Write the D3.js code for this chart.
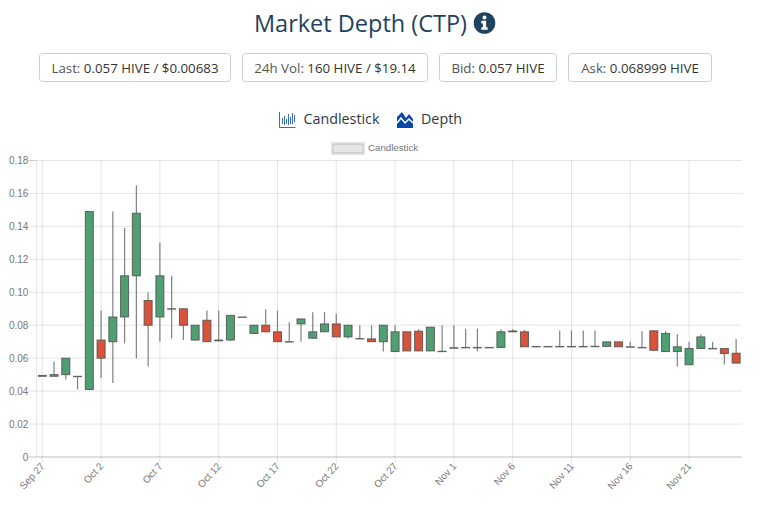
<!DOCTYPE html>
<html><head><meta charset="utf-8">
<script src="https://cdnjs.cloudflare.com/ajax/libs/d3/7.8.5/d3.min.js"></script>
<style>
html,body{margin:0;padding:0;background:#fff;overflow:hidden}
svg{display:block}
text{font-family:"Open Sans","Noto Sans",sans-serif}
.tick text{font-family:"Liberation Sans",Arial,sans-serif;font-size:10px;fill:#777}
</style></head><body>
<div id="chart"></div>
<script>
const title = "Market Depth (CTP)";
const stats = [
  {label:"Last:", value:"0.057 HIVE / $0.00683"},
  {label:"24h Vol:", value:"160 HIVE / $19.14"},
  {label:"Bid:", value:"0.057 HIVE"},
  {label:"Ask:", value:"0.068999 HIVE"}
];
const statBoxes = [[39,192],[242,186],[439,118],[568,144]];
const dates = ["Sep 27","Sep 28","Sep 29","Sep 30",
 "Oct 1","Oct 2","Oct 3","Oct 4","Oct 5","Oct 6","Oct 7","Oct 8","Oct 9","Oct 10","Oct 11","Oct 12","Oct 13","Oct 14","Oct 15","Oct 16",
 "Oct 17","Oct 18","Oct 19","Oct 20","Oct 21","Oct 22","Oct 23","Oct 24","Oct 25","Oct 26","Oct 27","Oct 28","Oct 29","Oct 30","Oct 31",
 "Nov 1","Nov 2","Nov 3","Nov 4","Nov 5","Nov 6","Nov 7","Nov 8","Nov 9","Nov 10","Nov 11","Nov 12","Nov 13","Nov 14","Nov 15","Nov 16",
 "Nov 17","Nov 18","Nov 19","Nov 20","Nov 21","Nov 22","Nov 23","Nov 24","Nov 25"];
const opens = [.049,.049,.050,.049,.041,.071,.070,.085,.110,.095,.085,.090,.090,.071,.083,.0705,.071,.085,.075,.080,
 .076,.070,.0808,.0721,.076,.0808,.0729,.0719,.0717,.070,.064,.076,.0764,.0644,.0642,.0660,.0665,.0665,.0665,.0665,
 .0760,.0760,.0671,.0671,.0671,.0671,.0671,.0672,.0671,.0699,.0669,.0665,.0766,.0640,.0640,.0560,.0659,.0659,.0659,.0630];
const closes = [.0495,.050,.060,.049,.149,.060,.085,.110,.148,.080,.110,.090,.080,.080,.070,.071,.086,.085,.080,.076,
 .070,.070,.0838,.076,.0808,.0729,.080,.0719,.070,.080,.076,.0644,.0644,.0788,.0642,.0663,.0665,.0665,.0665,.076,
 .0765,.0669,.0671,.0671,.0671,.0671,.0671,.0672,.0699,.0669,.0669,.0665,.0648,.075,.0669,.0659,.0729,.0659,.0628,.057];
const highs = [.049,.058,.060,.049,.149,.089,.149,.139,.165,.100,.130,.110,.090,.080,.089,.089,.086,.085,.080,.0897,
 .0889,.0818,.0838,.0879,.0879,.0869,.080,.080,.080,.080,.080,.076,.0776,.0788,.080,.080,.0778,.0778,.0665,.0776,
 .0776,.0772,.0671,.0671,.0768,.0768,.0768,.0768,.0699,.0699,.0699,.0764,.0766,.0764,.0747,.0699,.0745,.0699,.0659,.0715];
const lows = [.049,.049,.047,.041,.041,.048,.045,.069,.060,.055,.070,.072,.071,.0705,.070,.0705,.0705,.085,.075,.0758,
 .070,.070,.070,.0721,.076,.0729,.0719,.0719,.070,.064,.064,.0644,.0644,.0644,.0642,.0660,.0665,.0642,.0665,.0665,
 .0760,.0669,.0671,.0671,.0671,.0671,.0671,.0672,.0671,.0669,.0669,.0665,.0642,.064,.055,.056,.0659,.0659,.0562,.057];
const yTicks = [0,.02,.04,.06,.08,.10,.12,.14,.16,.18];
const xTickEvery = 5;
const navItems = ["Candlestick","Depth"];
const seriesName = "Candlestick";

const W=768,H=516;
const svg=d3.select("#chart").append("svg").attr("width",W).attr("height",H);

// header
const navy="#1f4260";
svg.append("text").attr("x",360.5).attr("y",31.5).attr("text-anchor","middle").attr("font-size",23.5).attr("fill",navy).text(title);
const info=svg.append("g").attr("transform","translate(484.5,23)");
info.append("circle").attr("r",10.8).attr("fill",navy);
info.append("circle").attr("cy",-5.6).attr("r",2).attr("fill","#fff");
info.append("path").attr("fill","#fff").attr("d","M-3.2,-2.2H1.6V4.2H3.2V6.8H-3.2V4.2H-1.6V0.4H-3.2Z");

// stat boxes
stats.forEach((s,i)=>{
  const [x,w]=statBoxes[i];
  svg.append("rect").attr("x",x+.5).attr("y",53.5).attr("width",w-1).attr("height",28).attr("rx",3)
     .attr("fill","#fff").attr("stroke","#ccd0d4");
  const t=svg.append("text").attr("x",x+w/2).attr("y",72.5).attr("text-anchor","middle").attr("font-size",13.3);
  t.append("tspan").attr("fill","#555").text(s.label+" ");
  t.append("tspan").attr("fill","#333").attr("font-weight",500).text(s.value);
});

// nav
svg.append("text").attr("x",303.5).attr("y",124).attr("font-size",14.3).attr("fill","#2b3a47").text(navItems[0]);
svg.append("text").attr("x",421).attr("y",124).attr("font-size",14.3).attr("fill","#2b3a47").text(navItems[1]);
const ic1=svg.append("g").attr("stroke","#3a6fb5").attr("fill","none");
ic1.append("path").attr("d","M279.5,112V127.5H295.5");
[[282,118,124],[284,116,125],[286,119,124],[288,114,125],[290,117,124],[292,113,124],[294,115,122]].forEach(a=>ic1.append("line").attr("x1",a[0]+.5).attr("x2",a[0]+.5).attr("y1",a[1]).attr("y2",a[2]));
const ic2=svg.append("g");
ic2.append("path").attr("fill","#0b47a8").attr("d","M397,128V117L402,112L406,118L409,114L413,119V128Z");
ic2.append("path").attr("fill","none").attr("stroke","#fff").attr("stroke-width",1.5).attr("d","M397,123L401,118L405,123L409,119L413,123");

// legend
svg.append("rect").attr("x",332.5).attr("y",143.5).attr("width",31).attr("height",10)
   .attr("fill","rgba(0,0,0,0.1)").attr("stroke","rgba(0,0,0,0.1)").attr("stroke-width",3);
svg.append("text").attr("x",368).attr("y",151).attr("font-size",9.7).attr("fill","#777")
   .style("font-family","'Liberation Sans',Arial,sans-serif").text(seriesName);

// scales
const x=d3.scaleBand().domain(dates).range([36.4,742]);
const y=d3.scaleLinear().domain([0,.18]).range([457,160.5]);
const cx=i=>x(dates[i])+x.bandwidth()/2;

// grid + axes
const gridColor="rgba(0,0,0,0.1)";
const yAxis=d3.axisLeft(y).offset(0).tickValues(yTicks).tickFormat(d=>d===0?"0":d3.format(".2f")(d)).tickSize(8).tickPadding(0);
const gy=svg.append("g").attr("transform","translate(36.4,0)").call(yAxis);
gy.select(".domain").attr("stroke",gridColor);
gy.selectAll(".tick line").attr("stroke",gridColor);
gy.selectAll(".tick").append("line").attr("x1",0).attr("x2",705.6).attr("stroke",d=>d===0?"rgba(0,0,0,0.25)":gridColor);
gy.selectAll(".tick text").attr("x",-8).attr("dy","0.36em");

const xTicks=dates.filter((d,i)=>i%xTickEvery===0);
const xAxis=d3.axisBottom(x).offset(0).tickValues(xTicks).tickSize(6);
const gx=svg.append("g").attr("transform","translate(0,457)").call(xAxis);
gx.select(".domain").remove();
gx.selectAll(".tick line").attr("stroke",gridColor).attr("y1",-296.5);
gx.selectAll(".tick text").attr("text-anchor","end").attr("dy",0).attr("y",0)
  .attr("transform","translate(3,9.5) rotate(-48)");

// candles
const up="#4f9f72",down="#d9533c",edge="rgba(80,80,80,0.85)";
const bw=8;
const g=svg.append("g");
const idx=d3.range(dates.length);
g.selectAll("line.wick").data(idx).join("line").attr("class","wick")
  .attr("x1",cx).attr("x2",cx).attr("y1",i=>y(highs[i])).attr("y2",i=>y(lows[i]))
  .attr("stroke","#808080").attr("stroke-width",1.2);
g.selectAll("rect.body").data(idx).join("rect").attr("class","body")
  .attr("x",i=>cx(i)-bw/2).attr("width",bw)
  .attr("y",i=>y(Math.max(opens[i],closes[i])))
  .attr("height",i=>Math.max(.4,Math.abs(y(opens[i])-y(closes[i]))))
  .attr("fill",i=>closes[i]>=opens[i]?up:down)
  .attr("stroke",edge).attr("stroke-width",1);
</script>
</body></html>
